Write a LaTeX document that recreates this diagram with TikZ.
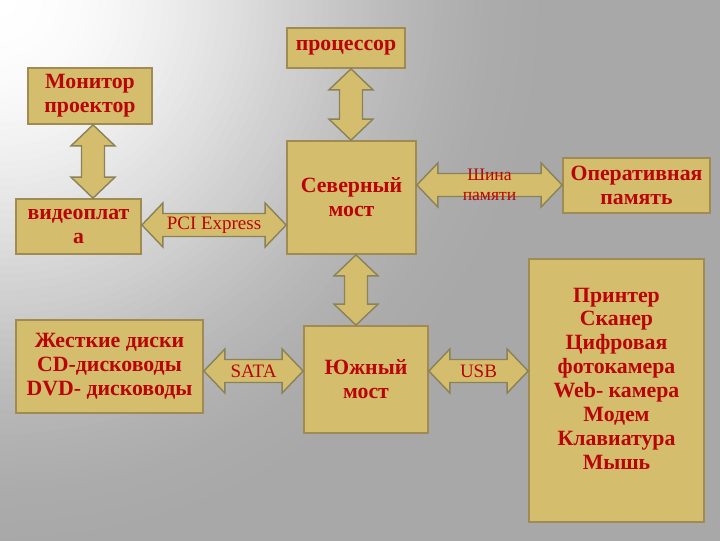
\documentclass[tikz,border=0pt]{standalone}
\usepackage{fontspec}
\setmainfont{Liberation Serif}
\usetikzlibrary{calc}
\definecolor{bggray}{RGB}{168,168,168}
\definecolor{boxbg}{RGB}{212,189,108}
\definecolor{boxline}{RGB}{160,140,82}
\definecolor{arrowline}{RGB}{138,130,88}
\definecolor{textred}{RGB}{185,5,5}
\tikzset{
  box/.style={
    draw=boxline,
    fill=boxbg,
    line width=1.2pt,
    align=center,
    inner sep=2pt,
    text=textred,
    font=\fontsize{15.5}{17}\selectfont\bfseries
  },
  fatarrow/.style={draw=arrowline, fill=boxbg, line width=1pt, line join=miter},
  buslabel/.style={
    text=textred,
    align=center,
    inner sep=0pt,
    font=\fontsize{13.5}{14}\selectfont
  },
  membus/.style={font=\fontsize{12.5}{14.5}\selectfont}
}
% fat double arrows: head half width, shaft half width, head length
\newcommand{\hw}{15.6pt}
\newcommand{\sw}{8.2pt}
\newcommand{\hl}{14.9pt}
% horizontal bus: name, left node, right node, y, label
\newcommand{\hbus}[5]{%
  \path[fatarrow] let \p1=(#2.east), \p2=(#3.west), \p3=(0,#4) in
    (\x1,\y3) -- (\x1+\hl,\y3+\hw) -- (\x1+\hl,\y3+\sw) -- (\x2-\hl,\y3+\sw)
    -- (\x2-\hl,\y3+\hw) -- (\x2,\y3) -- (\x2-\hl,\y3-\hw) -- (\x2-\hl,\y3-\sw)
    -- (\x1+\hl,\y3-\sw) -- (\x1+\hl,\y3-\hw) -- cycle
    (\x1*0.5+\x2*0.5,\y3) node[buslabel, #1/.try] (#1) {#5};
}
% vertical bus: upper node, lower node, x
\newcommand{\vbus}[3]{%
  \path[fatarrow] let \p1=(#1.south), \p2=(#2.north), \p3=(#3,0) in
    (\x3,\y1) -- (\x3+\hw,\y1-\hl) -- (\x3+\sw,\y1-\hl) -- (\x3+\sw,\y2+\hl)
    -- (\x3+\hw,\y2+\hl) -- (\x3,\y2) -- (\x3-\hw,\y2+\hl) -- (\x3-\sw,\y2+\hl)
    -- (\x3-\sw,\y1-\hl) -- (\x3-\hw,\y1-\hl) -- cycle;
}
\begin{document}
\begin{tikzpicture}[x=0.025cm, y=-0.025cm]
  \useasboundingbox (0,0) rectangle (720,540);
  % background: light in the top left corner
  \begin{scope}
    \clip (-3,-3) rectangle (723,543);
    \fill[bggray] (-3,-3) rectangle (723,543);
    \foreach \i in {0,...,70} {
      \pgfmathsetmacro\r{570-8*\i}
      \pgfmathsetmacro\p{50*(1+cos(\r/570*180))}
      \fill[white!\p!bggray] (0,0) circle (\r);
    }
  \end{scope}

  \node[box, minimum width=2.95cm, minimum height=1cm] (proc) at (346,48) {процессор};
  \node[box, minimum width=3.1cm, minimum height=1.4cm] (mon) at (90,96) {Монитор\\проектор};
  \node[box, minimum width=3.125cm, minimum height=1.375cm] (video) at (78.5,226.5) {видеоплат\\а};
  \node[box, minimum width=3.225cm, minimum height=2.825cm] (north) at (351.5,197.5) {Северный\\мост};
  \node[box, minimum width=3.675cm, minimum height=1.375cm] (ram) at (636.5,185.5) {Оперативная\\память};
  \node[box, minimum width=4.675cm, minimum height=2.325cm] (hdd) at (109.5,366.5) {Жесткие диски\\CD-дисководы\\DVD- дисководы};
  \node[box, minimum width=3.1cm, minimum height=2.675cm] (south) at (366,379.5) {Южный\\мост};
  \node[box, minimum width=4.375cm, minimum height=6.575cm] (periph) at (616.5,390.5)
    {Принтер\\Сканер\\Цифровая\\фотокамера\\Web- камера\\Модем\\Клавиатура\\Мышь\\\mbox{}};

  \vbus{proc}{north}{351}
  \vbus{mon}{video}{93}
  \vbus{north}{south}{356}
  \hbus{pci}{video}{north}{225}{PCI Express}
  \hbus{membus}{north}{ram}{185}{Шина\\памяти}
  \hbus{sata}{hdd}{south}{371}{SATA}
  \hbus{usb}{south}{periph}{371}{USB}
\end{tikzpicture}
\end{document}
